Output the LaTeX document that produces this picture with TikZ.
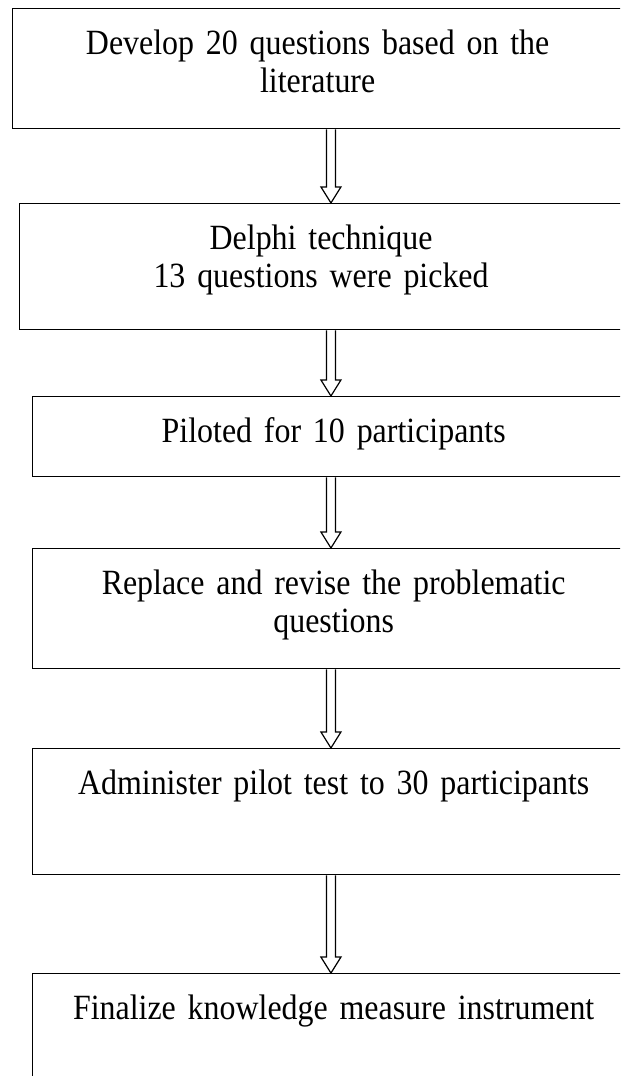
\documentclass[tikz,border=0pt]{standalone}
\usepackage{fontspec}
\setmainfont{Liberation Serif}[FakeStretch=0.9, WordSpace=0.8]
\usetikzlibrary{calc}

\begin{document}
\begin{tikzpicture}[x=1pt, y=-1pt,
	every node/.style={font=\fontsize{13.3}{14.25}\selectfont},
	stepbox/.style={draw, line width=0.5pt, inner sep=0pt, anchor=north west, align=center, text height=17.25pt},
	flowline/.style={line width=0.45pt, line join=miter}]
	\path[use as bounding box, clip] (0,0) rectangle (232.5,403.5);
	\coordinate (axis) at (124.1,0);
	% steps
	\node[stepbox, text width=228.75pt, text depth=27.75pt] (develop) at (4.5,3)
		{Develop 20 questions based on the\\ literature};
	\node[stepbox, text width=226.1pt, text depth=30pt] (delphi) at (7.1,76.1)
		{Delphi technique\\ 13 questions were picked};
	\node[stepbox, text width=225.75pt, text depth=12.75pt] (pilot) at (12,148.5)
		{Piloted for 10 participants};
	\node[stepbox, text width=225.75pt, text depth=27.75pt] (revise) at (12,205.5)
		{Replace and revise the problematic\\ questions};
	\node[stepbox, text width=225.75pt, text depth=30pt] (administer) at (12,280.5)
		{Administer pilot test to 30 participants};
	\node[stepbox, text width=225.75pt, text depth=35.25pt] (finalize) at (12,364.9)
		{Finalize knowledge measure instrument};
	% hollow arrows
	\foreach \a/\b in {develop/delphi, delphi/pilot, pilot/revise, revise/administer, administer/finalize}
		\draw[flowline] ($(\a.south -| axis)+(-1.7,0)$) -- ($(\b.north -| axis)+(-1.7,-6)$) -- ++(-2.05,0)
			-- (\b.north -| axis) -- ++(3.75,-6) -- ++(-2.05,0) -- ($(\a.south -| axis)+(1.7,0)$);
\end{tikzpicture}
\end{document}
